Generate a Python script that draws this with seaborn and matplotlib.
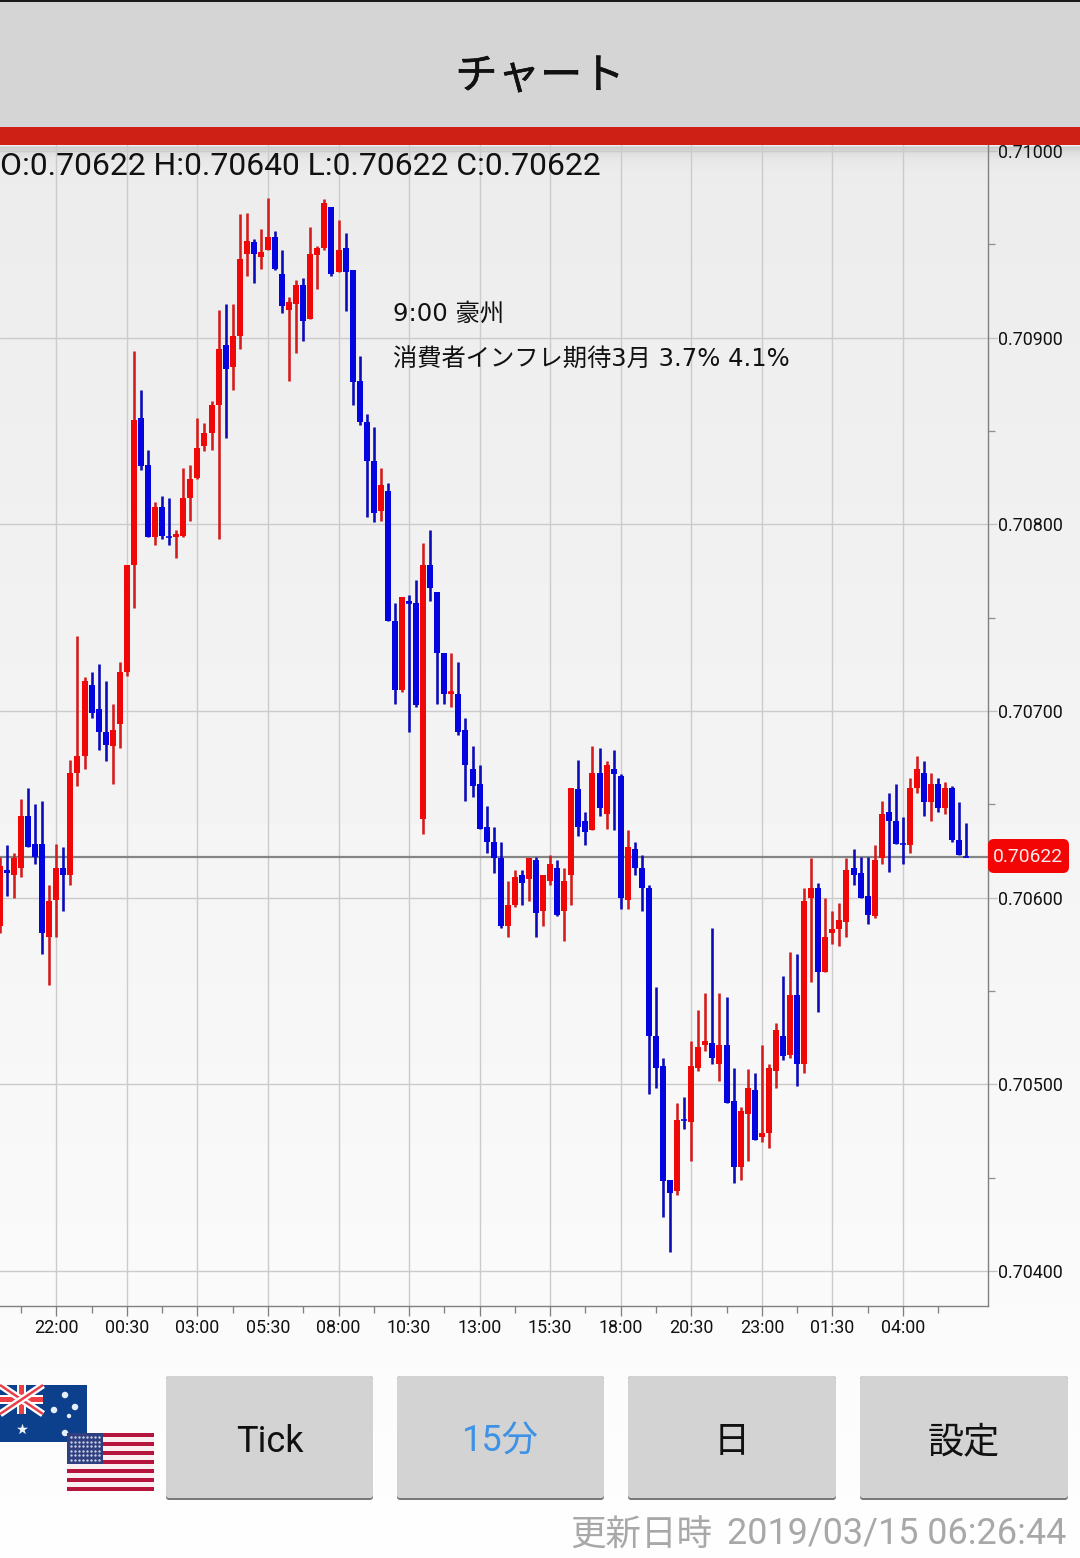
import numpy as np
import pandas as pd
import matplotlib
matplotlib.use("Agg")
import matplotlib.pyplot as plt
import matplotlib.patheffects as pe
from matplotlib.patches import FancyBboxPatch, Rectangle
from matplotlib.ticker import FixedLocator, FixedFormatter
import seaborn as sns

# ---------- data (prices in 1e-5 units) ----------
OPEN = [70585,70615,70612,70616,70644,70629,70629,70579,70599,70616,
        70612,70667,70676,70714,70701,70689,70681,70693,70721,70778,
        70857,70832,70793,70809,70793,70793,70794,70814,70825,70842,
        70849,70864,70896,70884,70901,70945,70951,70943,70947,70954,
        70934,70915,70918,70928,70910,70944,70948,70970,70935,70948,
        70936,70877,70855,70834,70807,70818,70748,70711,70759,70758,
        70642,70778,70764,70731,70709,70709,70690,70669,70661,70638,
        70630,70621,70585,70596,70612,70610,70620,70593,70609,70616,
        70593,70612,70658,70641,70636,70667,70645,70669,70665,70599,
        70626,70616,70605,70526,70510,70449,70443,70481,70480,70509,
        70521,70522,70511,70521,70491,70456,70484,70497,70472,70474,
        70507,70526,70516,70548,70511,70600,70605,70560,70581,70583,
        70587,70616,70613,70601,70590,70621,70646,70641,70629,70628,
        70659,70667,70651,70661,70648,70659,70631,70622]
HIGH = [70622,70628,70624,70653,70659,70650,70652,70607,70629,70627,
        70674,70740,70718,70721,70725,70716,70704,70726,70778,70893,
        70872,70840,70812,70815,70814,70797,70830,70832,70857,70854,
        70866,70915,70918,70918,70966,70967,70953,70958,70975,70957,
        70947,70922,70931,70932,70959,70949,70974,70970,70963,70956,
        70936,70890,70859,70852,70830,70822,70758,70761,70762,70770,
        70790,70797,70764,70731,70731,70726,70696,70681,70671,70649,
        70638,70630,70609,70615,70615,70621,70622,70612,70623,70620,
        70616,70659,70674,70646,70681,70680,70673,70679,70666,70636,
        70630,70623,70607,70552,70514,70449,70490,70493,70523,70540,
        70549,70584,70549,70547,70509,70488,70508,70506,70521,70511,
        70533,70558,70571,70570,70605,70621,70608,70600,70593,70597,
        70621,70626,70622,70622,70628,70652,70656,70661,70643,70664,
        70676,70673,70667,70664,70662,70660,70651,70640]
LOW = [70581,70601,70600,70611,70627,70618,70570,70553,70579,70593,
       70607,70660,70669,70696,70679,70673,70661,70680,70719,70755,
       70829,70793,70789,70792,70789,70782,70793,70802,70824,70839,
       70840,70792,70846,70872,70894,70933,70929,70937,70947,70936,
       70913,70877,70892,70898,70910,70926,70947,70933,70935,70914,
       70864,70853,70804,70801,70802,70748,70704,70710,70689,70702,
       70634,70759,70704,70704,70702,70687,70652,70654,70637,70624,
       70613,70584,70579,70595,70596,70598,70579,70585,70607,70590,
       70577,70596,70633,70628,70636,70644,70637,70636,70594,70594,
       70612,70593,70495,70498,70429,70410,70441,70476,70459,70507,
       70518,70511,70502,70490,70447,70449,70459,70470,70469,70466,
       70498,70513,70514,70499,70506,70555,70539,70560,70575,70574,
       70579,70607,70600,70586,70589,70618,70614,70629,70618,70624,
       70656,70644,70641,70646,70645,70630,70623,70622]
CLOSE = [70617,70613,70621,70644,70627,70622,70581,70598,70616,70612,
         70667,70676,70716,70699,70689,70682,70690,70721,70778,70856,
         70831,70793,70809,70794,70793,70795,70814,70824,70841,70849,
         70864,70894,70883,70901,70942,70952,70945,70946,70954,70937,
         70917,70919,70928,70909,70945,70948,70972,70934,70947,70935,
         70876,70855,70834,70806,70821,70748,70711,70761,70758,70703,
         70778,70766,70731,70709,70710,70689,70671,70660,70637,70630,
         70621,70585,70596,70611,70608,70621,70592,70612,70618,70591,
         70609,70659,70638,70635,70667,70648,70671,70666,70600,70627,
         70616,70605,70526,70509,70448,70442,70481,70481,70510,70520,
         70523,70514,70521,70490,70456,70486,70498,70470,70474,70509,
         70529,70515,70548,70511,70598,70605,70560,70579,70583,70588,
         70615,70612,70600,70591,70620,70645,70641,70629,70629,70659,
         70669,70651,70661,70648,70659,70631,70623,70622]
TIME_LABELS = ["22:00","00:30","03:00","05:30","08:00","10:30","13:00",
               "15:30","18:00","20:30","23:00","01:30","04:00"]
PRICE_TICKS = [0.70400,0.70500,0.70600,0.70700,0.70800,0.70900,0.71000]
PRICE_MINOR = [0.70450,0.70550,0.70650,0.70750,0.70850,0.70950]
LAST_PRICE = 0.70622
FIRST_INDEX = -8

OHLC_TEXT = "O:0.70622 H:0.70640 L:0.70622 C:0.70622"
NOTE_1 = "9:00 豪州"
NOTE_2 = "消費者インフレ期待3月 3.7% 4.1%"
TITLE = "チャート"
STAMP_LABEL = "更新日時"
STAMP_TIME = "2019/03/15 06:26:44"
BUTTONS = ["Tick", "15分", "日", "設定"]

# ---------- style ----------
sns.set_theme(style="whitegrid")
plt.rcParams['font.family'] = ['Roboto', 'Noto Sans CJK JP', 'DejaVu Sans']
W, H = 1080, 1558
fig = plt.figure(figsize=(W/100, H/100), dpi=100, facecolor="white")
PX = 0.72  # points per pixel
NOTE_FONT = ['DejaVu Sans', 'Noto Sans CJK JP']

# ---------- background gradient ----------
bg = fig.add_axes([0, 0, 1, 1], zorder=0)
bg.set_xlim(0, W); bg.set_ylim(H, 0); bg.axis("off")
ys = np.array([0, 145, 147, 152, 160, 175, 500, 900, 1300, 1558])
vs = np.array([238, 238, 205, 222, 232, 236, 240, 245, 250, 254])
grad = np.interp(np.arange(H), ys, vs)[:, None] / 255
bg.imshow(grad, extent=(0, W, H, 0), aspect="auto", cmap="gray", vmin=0, vmax=1)

# ---------- chart ----------
ax = fig.add_axes([0, 1-1306/H, 988/W, (1306-145)/H], zorder=1)
ax.patch.set_alpha(0)
df = pd.DataFrame({"open": OPEN, "high": HIGH, "low": LOW, "close": CLOSE}) / 1e5
df["x"] = np.arange(len(df)) + FIRST_INDEX
df["dir"] = np.where(df["close"] > df["open"], "up", "down")

wicks = df.melt(id_vars=["x", "dir"], value_vars=["high", "low"], value_name="price")
bodies = df.melt(id_vars=["x", "dir"], value_vars=["open", "close"], value_name="price")
WICK_PAL = {"up": "#d41c1c", "down": "#0a0ab8"}
BODY_PAL = {"up": "#f00808", "down": "#0404e0"}

ax.axhline(LAST_PRICE, color="#858585", lw=2.2*PX, zorder=4)
sns.lineplot(data=wicks, x="x", y="price", units="x", hue="dir", palette=WICK_PAL,
             estimator=None, sort=False, legend=False, lw=2.6*PX, ax=ax, zorder=5,
             solid_capstyle="butt")
sns.lineplot(data=bodies, x="x", y="price", units="x", hue="dir", palette=BODY_PAL,
             estimator=None, sort=False, legend=False, lw=6*PX, ax=ax, zorder=6,
             solid_capstyle="butt")
doji = df[(df["open"] - df["close"]).abs() < 0.000015]
ax.hlines(doji["close"], doji["x"]-0.42, doji["x"]+0.42,
          colors=[BODY_PAL[d] for d in doji["dir"]], lw=1.6*PX, zorder=6)

ax.set_xlim(-7.98, 132.06)
ax.set_ylim(0.70700 + (711-1306)*0.0000053562, 0.70700 + (711-145)*0.0000053562)
ax.grid(True, which="major", color="#cbcbcb", lw=1.4*PX)
ax.set_axisbelow(True)
ax.set_xlabel(""); ax.set_ylabel("")
ax.xaxis.set_major_locator(FixedLocator(np.arange(0, 130, 10)))
ax.xaxis.set_major_formatter(FixedFormatter(TIME_LABELS))
ax.xaxis.set_minor_locator(FixedLocator(np.arange(-5, 130, 10)))
ax.yaxis.tick_right()
ax.yaxis.set_major_locator(FixedLocator(PRICE_TICKS))
ax.yaxis.set_major_formatter(FixedFormatter([f"{p:.5f}" for p in PRICE_TICKS]))
ax.yaxis.set_minor_locator(FixedLocator(PRICE_MINOR))
ax.tick_params(axis="x", which="major", length=10*PX, width=1.3*PX, color="#808080",
               labelsize=12.9, labelcolor="#111111", pad=2.2, bottom=True)
ax.tick_params(axis="x", which="minor", length=7*PX, width=1.3*PX, color="#808080", bottom=True)
ax.tick_params(axis="y", which="major", length=9*PX, width=1.3*PX, color="#c0c0c0",
               labelsize=12.9, labelcolor="#111111", pad=0.5, right=True)
ax.tick_params(axis="y", which="minor", length=7*PX, width=1.3*PX, color="#909090", right=True)
for s in ["top", "left"]:
    ax.spines[s].set_visible(False)
for s in ["right", "bottom"]:
    ax.spines[s].set_color("#808080")
    ax.spines[s].set_linewidth(1.4*PX)

# ---------- interface overlay ----------
ui = fig.add_axes([0, 0, 1, 1], zorder=2)
ui.set_xlim(0, W); ui.set_ylim(H, 0); ui.axis("off"); ui.patch.set_alpha(0)

ui.add_patch(Rectangle((0, 0), W, 127, fc="#d5d5d5", ec="none"))
ui.add_patch(Rectangle((0, 0), W, 1.5, fc="#1a1a1a", ec="none"))
ui.add_patch(Rectangle((0, 127), W, 18, fc="#cf2015", ec="none"))
heavy = [pe.withStroke(linewidth=0.4, foreground="#111111")]
ui.text(540, 77, TITLE, ha="center", va="center", fontsize=30.5, color="#111111", path_effects=heavy)
ui.text(0.5, 166, OHLC_TEXT, ha="left", va="center", fontsize=22.95, color="#111111")
ui.text(393, 314, NOTE_1, ha="left", va="center", fontsize=17.5, color="#111111", family=NOTE_FONT)
ui.text(393, 360, NOTE_2, ha="left", va="center", fontsize=17.5, color="#111111", family=NOTE_FONT)

ui.add_patch(FancyBboxPatch((991, 842), 75, 28, boxstyle="round,pad=3,rounding_size=6",
                            fc="#f40505", ec="none"))
ui.text(1028, 857, f"{LAST_PRICE:.5f}", ha="center", va="center", fontsize=13.9, color="#fbeaea")

btn_x = [(166, 373), (397, 604), (628, 836), (860, 1068)]
btn_c = ["#111111", "#3d92e6", "#111111", "#111111"]
for (x0, x1), label, col in zip(btn_x, BUTTONS, btn_c):
    ui.add_patch(FancyBboxPatch((x0+3, 1379), x1-x0-6, 118, boxstyle="round,pad=3,rounding_size=3",
                                fc="#7a7a7a", ec="none"))
    ui.add_patch(FancyBboxPatch((x0+3, 1379), x1-x0-6, 116, boxstyle="round,pad=3,rounding_size=3",
                                fc="#d3d3d3", ec="none"))
    ui.text((x0+x1)/2, 1442, label, ha="center", va="center", fontsize=26, color=col)

ui.text(570, 1536, STAMP_LABEL, ha="left", va="center", fontsize=25.6, color="#a8a8a8")
ui.text(1066, 1534, STAMP_TIME, ha="right", va="center", fontsize=25.9, color="#a8a8a8")

# flags
ui.add_patch(Rectangle((0, 1385), 87, 57, fc="#0c3f8c", ec="none"))
jack = [((0, 1385), (43, 1414)), ((0, 1414), (43, 1385))]
for a, b in jack:
    ui.plot([a[0], b[0]], [a[1], b[1]], color="white", lw=7*PX, solid_capstyle="butt")
    ui.plot([a[0], b[0]], [a[1], b[1]], color="#e8404a", lw=2.5*PX, solid_capstyle="butt")
ui.add_patch(Rectangle((0, 1395), 43, 9, fc="white", ec="none"))
ui.add_patch(Rectangle((17, 1385), 9, 29, fc="white", ec="none"))
ui.add_patch(Rectangle((0, 1397), 43, 5, fc="#ee3e46", ec="none"))
ui.add_patch(Rectangle((19, 1385), 5, 29, fc="#ee3e46", ec="none"))
ui.scatter([65, 54, 75, 69, 65], [1395, 1410, 1407, 1416, 1433], s=[22, 22, 22, 10, 22], c="#e6eef8", lw=0)
ui.scatter([22], [1429], s=70, c="#f2f6fb", marker="*", lw=0)

ui.add_patch(Rectangle((67, 1433), 87, 58, fc="#fbeef0", ec="none"))
stripe_h = 58/13
for k in range(0, 13, 2):
    ui.add_patch(Rectangle((67, 1433+k*stripe_h), 87, stripe_h, fc="#b5153c", ec="none"))
ui.add_patch(Rectangle((67, 1433), 36, 31, fc="#2f3f80", ec="none"))
sx = np.linspace(71, 99, 8); sy = np.linspace(1437, 1460, 6)
XX, YY = np.meshgrid(sx, sy)
ui.scatter(XX.ravel(), YY.ravel(), s=3, c="#c9cfe6", lw=0)
ui.set_xlim(0, W); ui.set_ylim(H, 0)

fig.savefig("out.png", dpi=100)
